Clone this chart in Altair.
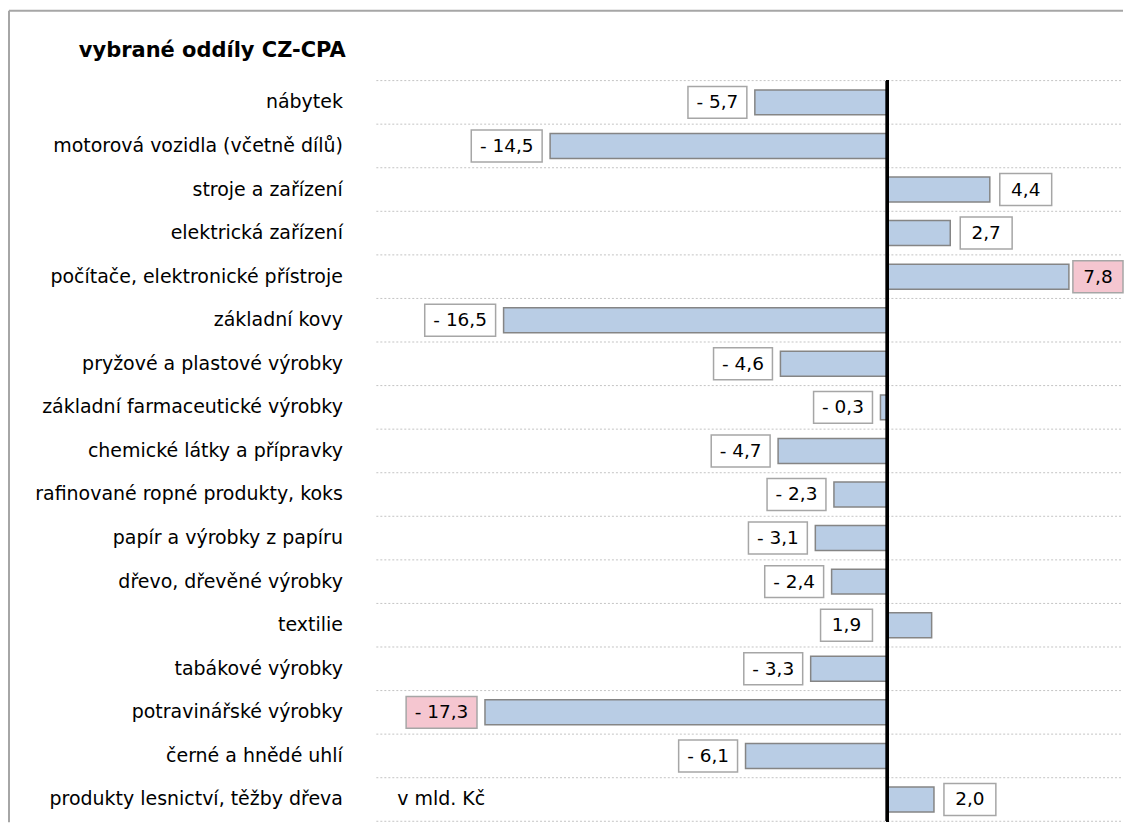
import altair as alt
import pandas as pd

categories = [
    "nábytek ",
    "motorová vozidla (včetně dílů)",
    "stroje a zařízení",
    "elektrická zařízení",
    "počítače, elektronické přístroje",
    "základní kovy",
    "pryžové a plastové výrobky",
    "základní farmaceutické výrobky",
    "chemické látky a přípravky",
    "rafinované ropné produkty, koks",
    "papír a výrobky z papíru",
    "dřevo, dřevěné výrobky",
    "textilie",
    "tabákové výrobky",
    "potravinářské výrobky",
    "černé a hnědé uhlí",
    "produkty lesnictví, těžby dřeva",
]
values = [-5.7, -14.5, 4.4, 2.7, 7.8, -16.5, -4.6, -0.3, -4.7, -2.3, -3.1, -2.4, 1.9, -3.3, -17.3, -6.1, 2.0]
title_text = "vybrané oddíly CZ-CPA"
unit_text = "v mld. Kč"
left_labelled = ["textilie"]

FONT = "DejaVu Sans"
W, H = 746, 742
X_DOMAIN = [-21.97, 10.04]
PPU = W / (X_DOMAIN[1] - X_DOMAIN[0])
X_LIMIT = X_DOMAIN[1] + 2 / PPU


def fmt(v):
    s = f"{abs(v):.1f}".replace(".", ",")
    return f"- {s}" if v < 0 else s


rows = []
vmax, vmin = max(values), min(values)
for c, v in zip(categories, values):
    lab = fmt(v)
    w = {3: 52, 4: 56, 5: 59, 6: 71}.get(len(lab), 12 * len(lab))
    left = v < 0 or c in left_labelled
    if left:
        gap = 8 if v < 0 else 15
        xr = min(v, 0) - gap / PPU
        xl = xr - w / PPU
    else:
        xl = v + 10 / PPU
        xr = xl + w / PPU
        if xr > X_LIMIT:
            xl = max(v + 4 / PPU, xl - (xr - X_LIMIT))
            xr = X_LIMIT
    rows.append(dict(cat=c, v=v, zero=0.0, label=lab, xl=xl, xr=xr, xc=(xl + xr) / 2,
                     fill="#f5c6d0" if v in (vmax, vmin) else "white"))
df = pd.DataFrame(rows)

yaxis = alt.Axis(title=None, domain=False, ticks=False, grid=False, labelFont=FONT,
                 labelFontSize=19, labelColor="black", labelPadding=34, labelLimit=500)
yscale = alt.Scale(paddingInner=0, paddingOuter=0)


def Y(**kw):
    return alt.Y("cat:N", sort=categories, scale=yscale, axis=yaxis, **kw)


xscale = alt.Scale(domain=X_DOMAIN, nice=False, zero=False)
base = alt.Chart(df)

grid = base.mark_rule(color="#c4c4c4", strokeWidth=1, strokeDash=[2, 2]).encode(y=Y(bandPosition=0))
grid_last = base.transform_filter(alt.datum.cat == categories[-1]).mark_rule(
    color="#c4c4c4", strokeWidth=1, strokeDash=[2, 2]).encode(y=Y(bandPosition=1))

bars = base.mark_bar(height=25, fill="#b9cde5", stroke="#858585", strokeWidth=1.5).encode(
    x=alt.X("v:Q", scale=xscale, axis=None), x2="zero:Q", y=Y())

boxes = base.mark_bar(height=32, stroke="#a6a6a6", strokeWidth=1.5).encode(
    x=alt.X("xl:Q", scale=xscale, axis=None), x2="xr:Q", y=Y(),
    fill=alt.Fill("fill:N", scale=None))

texts = base.mark_text(font=FONT, fontSize=18.5, color="black", baseline="middle").encode(
    x=alt.X("xc:Q", scale=xscale, axis=None), y=Y(), text="label:N")

zero_line = base.mark_rule(color="black", strokeWidth=3).encode(x=alt.datum(0, scale=xscale))

unit = alt.Chart(pd.DataFrame({"cat": [categories[-1]], "t": [unit_text]})).mark_text(
    font=FONT, fontSize=19, color="black", align="left", baseline="middle").encode(
    x=alt.value(21), y=Y(), text="t:N")

title = alt.Chart(pd.DataFrame({"t": [title_text]})).mark_text(
    font=FONT, fontSize=21, fontWeight="bold", color="black", align="left",
    baseline="alphabetic").encode(x=alt.value(-298), y=alt.value(-24), text="t:N")

frame_top = alt.Chart(pd.DataFrame({"a": [0]})).mark_rule(color="#a6a6a6", strokeWidth=2).encode(
    x=alt.value(-368), x2=alt.value(W + 2), y=alt.value(-70))
frame_left = alt.Chart(pd.DataFrame({"a": [0]})).mark_rule(color="#a6a6a6", strokeWidth=2).encode(
    x=alt.value(-368), y=alt.value(-70), y2=alt.value(H + 1))

chart = alt.layer(grid, grid_last, bars, boxes, texts, zero_line, unit, title, frame_top, frame_left).properties(
    width=W, height=H,
    padding={"left": 0, "top": 1, "right": 0, "bottom": 0},
).configure_view(stroke=None)

chart.save("out.html", embed_options={"renderer": "svg", "actions": False})
